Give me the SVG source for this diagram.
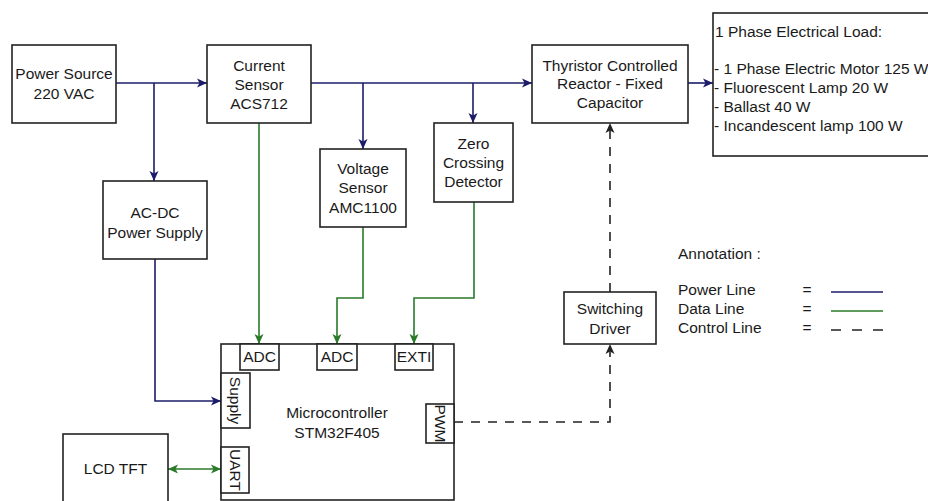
<svg xmlns="http://www.w3.org/2000/svg" width="928" height="501" viewBox="0 0 928 501">
<style>
  .box { fill: #ffffff; stroke: #222222; stroke-width: 1.6; }
  .t { font-family: "Liberation Sans", Arial, sans-serif; font-size: 15.5px; fill: #1a1a1a; text-anchor: middle; }
  .tl { font-family: "Liberation Sans", Arial, sans-serif; font-size: 15.5px; fill: #1a1a1a; text-anchor: start; }
  .pw { fill: none; stroke: #1c1c6b; stroke-width: 1.6; }
  .dt { fill: none; stroke: #2a7a2a; stroke-width: 1.6; }
  .ct { fill: none; stroke: #222222; stroke-width: 1.6; stroke-dasharray: 9 8; }
</style>
<defs>
  <marker id="aP" markerUnits="userSpaceOnUse" markerWidth="12" markerHeight="12" viewBox="0 0 12 12" refX="11" refY="6" orient="auto">
    <path d="M1,1.5 L11,6 L1,10.5 L3.5,6 Z" fill="#1c1c6b"/>
  </marker>
  <marker id="aD" markerUnits="userSpaceOnUse" markerWidth="12" markerHeight="12" viewBox="0 0 12 12" refX="11" refY="6" orient="auto">
    <path d="M1,1.5 L11,6 L1,10.5 L3.5,6 Z" fill="#2a7a2a"/>
  </marker>
  <marker id="aDs" markerUnits="userSpaceOnUse" markerWidth="12" markerHeight="12" viewBox="0 0 12 12" refX="11" refY="6" orient="auto-start-reverse">
    <path d="M1,1.5 L11,6 L1,10.5 L3.5,6 Z" fill="#2a7a2a"/>
  </marker>
  <marker id="aC" markerUnits="userSpaceOnUse" markerWidth="12" markerHeight="12" viewBox="0 0 12 12" refX="11" refY="6" orient="auto">
    <path d="M1,1.5 L11,6 L1,10.5 L3.5,6 Z" fill="#222222"/>
  </marker>
</defs>
<rect width="928" height="501" fill="#ffffff"/>

<g id="connectors">
  <path class="pw" d="M116,83 H207" marker-end="url(#aP)"/>
  <path class="pw" d="M154,83 V181" marker-end="url(#aP)"/>
  <path class="pw" d="M311,83 H532" marker-end="url(#aP)"/>
  <path class="pw" d="M363,83 V149" marker-end="url(#aP)"/>
  <path class="pw" d="M473,83 V123" marker-end="url(#aP)"/>
  <path class="pw" d="M688,83 H713" marker-end="url(#aP)"/>
  <path class="pw" d="M155,259 V401 H221" marker-end="url(#aP)"/>
  <path class="dt" d="M259,123 V344" marker-end="url(#aD)"/>
  <path class="dt" d="M363,227 V298 H337 V344" marker-end="url(#aD)"/>
  <path class="dt" d="M474,202 V298 H414 V344" marker-end="url(#aD)"/>
  <path class="dt" d="M168,469 H221" marker-start="url(#aDs)" marker-end="url(#aDs)"/>
  <path class="ct" d="M454,422 H610 V344" marker-end="url(#aC)"/>
  <path class="ct" d="M610,292 V123" marker-end="url(#aC)"/>
</g>

<g id="power-source">
  <rect class="box" x="12" y="45" width="104" height="78"/>
  <text class="t" x="64" y="78.5">Power Source</text>
  <text class="t" x="64" y="98.5">220 VAC</text>
</g>
<g id="current-sensor">
  <rect class="box" x="207" y="45" width="104" height="78"/>
  <text class="t" x="259" y="70.5">Current</text>
  <text class="t" x="259" y="89.5">Sensor</text>
  <text class="t" x="259" y="108.5">ACS712</text>
</g>
<g id="tcr-fc">
  <rect class="box" x="532" y="45" width="156" height="78"/>
  <text class="t" x="610" y="70.5">Thyristor Controlled</text>
  <text class="t" x="610" y="89">Reactor - Fixed</text>
  <text class="t" x="610" y="108">Capacitor</text>
</g>
<g id="load">
  <rect class="box" x="713" y="13" width="230" height="143"/>
  <text class="tl" x="715" y="36.5">1 Phase Electrical Load:</text>
  <text class="tl" x="714" y="74">- 1 Phase Electric Motor 125 W</text>
  <text class="tl" x="714" y="93">- Fluorescent Lamp 20 W</text>
  <text class="tl" x="714" y="112">- Ballast 40 W</text>
  <text class="tl" x="714" y="131">- Incandescent lamp 100 W</text>
</g>
<g id="voltage-sensor">
  <rect class="box" x="320" y="149" width="86" height="78"/>
  <text class="t" x="363" y="173.5">Voltage</text>
  <text class="t" x="363" y="192.5">Sensor</text>
  <text class="t" x="363" y="212.5">AMC1100</text>
</g>
<g id="zero-crossing">
  <rect class="box" x="434" y="123" width="79" height="79"/>
  <text class="t" x="473.5" y="148.5">Zero</text>
  <text class="t" x="473.5" y="167.5">Crossing</text>
  <text class="t" x="473.5" y="186.5">Detector</text>
</g>
<g id="acdc">
  <rect class="box" x="103" y="181" width="104" height="78"/>
  <text class="t" x="155" y="217.5">AC-DC</text>
  <text class="t" x="155" y="237.5">Power Supply</text>
</g>
<g id="switching-driver">
  <rect class="box" x="564" y="292" width="92" height="52"/>
  <text class="t" x="610" y="313.5">Switching</text>
  <text class="t" x="610" y="333.5">Driver</text>
</g>
<g id="lcd">
  <rect class="box" x="63" y="434" width="105" height="80"/>
  <text class="t" x="115.5" y="473.5">LCD TFT</text>
</g>
<g id="microcontroller">
  <rect class="box" x="221" y="344" width="233" height="156"/>
  <text class="t" x="337" y="417.5">Microcontroller</text>
  <text class="t" x="337" y="437.5">STM32F405</text>
  <rect class="box" x="240" y="344" width="39" height="26"/>
  <text class="t" x="259.5" y="362">ADC</text>
  <rect class="box" x="317" y="344" width="40" height="26"/>
  <text class="t" x="337" y="362">ADC</text>
  <rect class="box" x="395" y="344" width="38" height="26"/>
  <text class="t" x="414" y="362">EXTI</text>
  <rect class="box" x="221" y="373" width="29" height="55"/>
  <text class="t" transform="translate(235.5,400.5) rotate(90)" x="0" y="5.5">Supply</text>
  <rect class="box" x="221" y="447" width="28" height="46"/>
  <text class="t" transform="translate(235,470) rotate(90)" x="0" y="5.5">UART</text>
  <rect class="box" x="426" y="404" width="28" height="39"/>
  <text class="t" transform="translate(440,423.5) rotate(90)" x="0" y="5.5">PWM</text>
</g>
<g id="annotation">
  <text class="tl" x="678" y="258.5">Annotation :</text>
  <text class="tl" x="678" y="294.5">Power Line</text>
  <text class="tl" x="678" y="313.5">Data Line</text>
  <text class="tl" x="678" y="332.5">Control Line</text>
  <text class="t" x="807" y="294.5">=</text>
  <text class="t" x="807" y="313.5">=</text>
  <text class="t" x="807" y="332.5">=</text>
  <path class="pw" d="M831,292 H883"/>
  <path class="dt" d="M831,311 H883"/>
  <path class="ct" d="M831,330 H883" style="stroke-dasharray: 10 11"/>
</g>
</svg>
